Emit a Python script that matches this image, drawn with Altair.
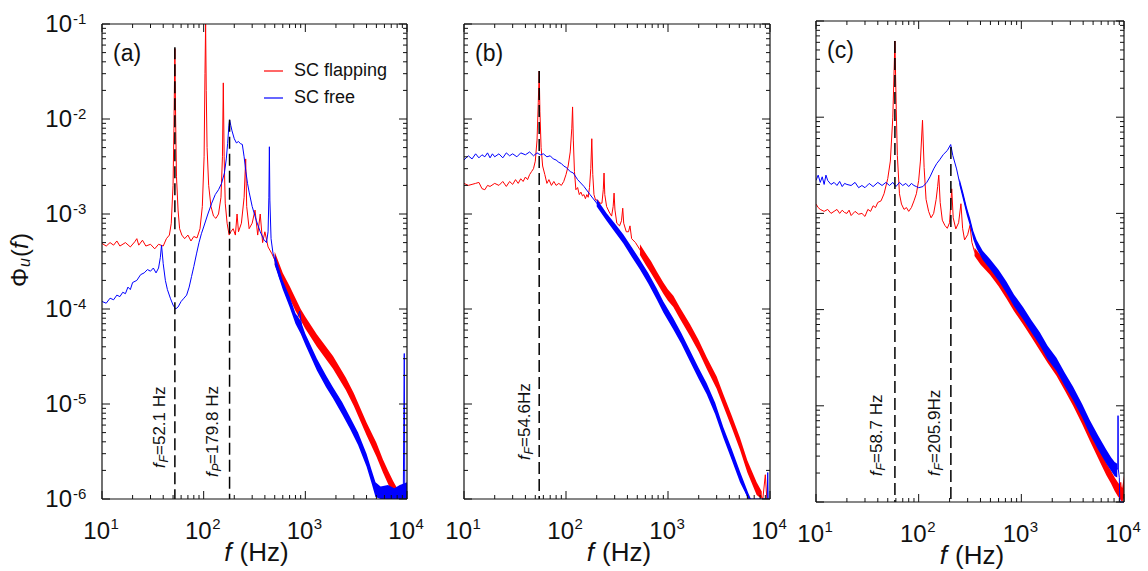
import altair as alt
import pandas as pd

RED = "#ff0000"
BLUE = "#0000ff"
INK = "#111111"
FONT = "Liberation Sans"

SERIES = ["SC flapping", "SC free"]
PANEL_TAGS = ["(a)", "(b)", "(c)"]

# ---------------- panel (a) ----------------
A_RED = [(10, 4.9e-4), (11, 4.6e-4), (12, 5.0e-4), (13, 4.7e-4), (14, 5.2e-4), (15, 4.6e-4), (17, 5.0e-4),
         (19, 4.5e-4), (21, 5.1e-4), (22, 5.5e-4), (23, 4.7e-4), (25, 5.3e-4), (27, 4.6e-4), (30, 4.8e-4),
         (33, 4.3e-4), (36, 4.8e-4), (40, 4.6e-4), (43, 5.5e-4), (46, 6.0e-4), (48, 8e-4), (50, 2e-3),
         (51, 8e-3), (52.1, 5.5e-2), (53, 1e-2), (54, 2.5e-3), (56, 1.1e-3), (58, 7e-4), (61, 6e-4),
         (65, 5.5e-4), (70, 6.0e-4), (75, 5.2e-4), (80, 5.8e-4), (86, 5.6e-4), (92, 7e-4), (97, 1.2e-3),
         (101, 4e-3), (103, 3e-2), (104.5, 1e-1), (106, 2e-2), (108, 5e-3), (112, 2e-3), (118, 1.2e-3),
         (125, 9.5e-4), (132, 9e-4), (140, 1.0e-3), (148, 1.5e-3), (153, 4e-3), (156, 2.4e-2), (159, 4e-3),
         (163, 1.3e-3), (170, 8e-4), (178, 6e-4), (185, 6.5e-4), (195, 7e-4), (205, 6e-4), (213, 1.0e-3),
         (220, 6.5e-4), (235, 8e-4), (250, 1.5e-3), (259, 3.8e-3), (265, 1.2e-3), (280, 7e-4), (300, 8e-4),
         (320, 1.1e-3), (340, 6e-4), (360, 1.0e-3), (380, 5e-4), (400, 6.5e-4), (430, 4.5e-4), (470, 3.8e-4),
         (520, 3.0e-4), (600, 2.0e-4), (700, 1.45e-4), (800, 1.1e-4), (900, 8.5e-5), (1000, 7e-5),
         (1300, 4.6e-5), (1870, 2.7e-5), (2500, 1.6e-5), (3000, 1.1e-5), (4000, 5.4e-6), (5000, 3.3e-6),
         (5800, 2.2e-6), (6500, 1.7e-6), (7300, 1.3e-6), (8000, 1.1e-6)]
A_RED_BAND = [(500, 2.9e-4, 4.0e-4), (600, 1.8e-4, 2.4e-4), (700, 1.3e-4, 1.75e-4), (800, 9.5e-5, 1.3e-4),
              (900, 7.6e-5, 1.0e-4), (1000, 6.2e-5, 8.3e-5), (1300, 4.0e-5, 5.4e-5), (1870, 2.35e-5, 3.2e-5),
              (2500, 1.4e-5, 1.9e-5), (3000, 9.5e-6, 1.3e-5), (4000, 4.7e-6, 6.4e-6), (5000, 2.8e-6, 3.9e-6),
              (5800, 1.9e-6, 2.6e-6), (6500, 1.45e-6, 2.0e-6), (7300, 1.1e-6, 1.55e-6), (8000, 1.0e-6, 1.3e-6)]
A_BLUE = [(10, 1.2e-4), (11, 1.15e-4), (12, 1.3e-4), (13, 1.25e-4), (14, 1.4e-4), (15, 1.35e-4), (16, 1.5e-4),
          (17, 1.45e-4), (18, 1.7e-4), (19, 1.6e-4), (20, 1.9e-4), (22, 2.0e-4), (24, 2.3e-4), (26, 2.4e-4),
          (28, 2.6e-4), (30, 2.5e-4), (32, 2.7e-4), (34, 2.4e-4), (36, 2.7e-4), (37.5, 3.5e-4), (38.5, 4.7e-4),
          (40, 3.0e-4), (42, 2.0e-4), (44, 1.6e-4), (47, 1.3e-4), (50, 1.1e-4), (53, 1.0e-4), (56, 1.05e-4),
          (60, 1.2e-4), (64, 1.3e-4), (68, 1.4e-4), (72, 1.7e-4), (76, 2.2e-4), (80, 2.8e-4), (85, 3.8e-4),
          (90, 5.0e-4), (95, 6.2e-4), (100, 7.3e-4), (110, 1.0e-3), (120, 1.3e-3), (130, 1.6e-3),
          (140, 1.8e-3), (150, 2.1e-3), (160, 2.7e-3), (167, 3.8e-3), (172, 5.5e-3), (177, 8.5e-3),
          (180, 9.8e-3), (185, 8.5e-3), (190, 7.5e-3), (200, 6.2e-3), (210, 5.6e-3), (220, 5.8e-3),
          (230, 5.5e-3), (240, 5.4e-3), (250, 4.0e-3), (260, 2.8e-3), (270, 2.1e-3), (280, 1.7e-3),
          (300, 1.2e-3), (330, 8.5e-4), (360, 6.5e-4), (390, 5.4e-4), (415, 5.0e-4), (430, 6.5e-4),
          (438, 1.5e-3), (443, 5.1e-3), (448, 1.4e-3), (460, 5.5e-4), (480, 3.9e-4), (500, 3.3e-4),
          (560, 2.1e-4), (610, 1.75e-4), (650, 1.45e-4), (700, 1.2e-4), (760, 9e-5), (820, 7.5e-5),
          (880, 9.5e-5), (920, 6.5e-5), (1000, 4.8e-5), (1300, 2.6e-5), (1600, 1.7e-5), (1870, 1.3e-5),
          (2300, 9.0e-6), (2750, 6.3e-6), (3300, 4.3e-6), (4000, 2.6e-6), (4500, 1.7e-6), (4900, 1.25e-6),
          (5500, 1.1e-6), (6500, 1.15e-6), (7500, 1.05e-6), (8500, 1.15e-6), (9200, 1.2e-6), (9400, 3.4e-5),
          (9500, 1.3e-6), (10000, 1.2e-6)]
A_BLUE_BAND = [(500, 2.9e-4, 3.8e-4), (600, 1.6e-4, 2.0e-4), (700, 1.05e-4, 1.35e-4), (800, 7.0e-5, 9.0e-5),
               (900, 5.5e-5, 7.5e-5), (1000, 4.2e-5, 5.5e-5), (1300, 2.25e-5, 3.0e-5), (1600, 1.5e-5, 2.0e-5),
               (1870, 1.15e-5, 1.5e-5), (2300, 7.8e-6, 1.05e-5), (2750, 5.5e-6, 7.3e-6), (3300, 3.7e-6, 5.0e-6),
               (4000, 2.2e-6, 3.0e-6), (4500, 1.45e-6, 2.0e-6), (4900, 1.05e-6, 1.5e-6), (5500, 0.95e-6, 1.35e-6),
               (6500, 0.95e-6, 1.4e-6), (7500, 0.9e-6, 1.3e-6), (8500, 0.95e-6, 1.4e-6), (10000, 0.95e-6, 1.5e-6)]
A_MARKERS = [(52.1, 5.7e-2, "F", "=52.1 Hz"), (179.8, 9.8e-3, "P", "=179.8 Hz")]

# ---------------- panel (b) ----------------
B_RED = [(10, 2.1e-3), (11, 2.0e-3), (12, 2.05e-3), (13, 2.1e-3), (14, 2.15e-3), (15, 1.85e-3), (16, 1.8e-3),
         (17, 2.0e-3), (18, 1.95e-3), (20, 2.1e-3), (22, 2.0e-3), (24, 2.2e-3), (26, 1.95e-3), (28, 2.2e-3),
         (30, 2.05e-3), (32, 2.3e-3), (34, 2.1e-3), (36, 2.35e-3), (38, 2.2e-3), (40, 2.45e-3), (42, 2.3e-3),
         (44, 2.6e-3), (46, 2.8e-3), (48, 3.0e-3), (50, 3.6e-3), (52, 6e-3), (53.5, 1.5e-2), (54.6, 3.2e-2),
         (55.5, 1.2e-2), (57, 5e-3), (59, 3.2e-3), (62, 2.6e-3), (65, 2.1e-3), (68, 2.3e-3), (72, 2.0e-3),
         (76, 2.2e-3), (80, 2.0e-3), (85, 2.1e-3), (90, 2.0e-3), (95, 2.2e-3), (100, 2.6e-3), (105, 3.2e-3),
         (110, 4.5e-3), (114, 8e-3), (116, 1.34e-2), (118, 6e-3), (121, 2.8e-3), (125, 1.8e-3), (130, 1.9e-3),
         (135, 1.6e-3), (140, 1.7e-3), (145, 1.55e-3), (150, 1.6e-3), (155, 1.45e-3), (160, 1.6e-3),
         (165, 1.5e-3), (170, 1.9e-3), (175, 3e-3), (179, 6.2e-3), (183, 2.6e-3), (188, 1.6e-3), (195, 1.4e-3),
         (205, 1.4e-3), (215, 1.3e-3), (225, 1.3e-3), (232, 1.8e-3), (236, 2.7e-3), (240, 1.6e-3),
         (250, 1.2e-3), (265, 1.05e-3), (280, 9.5e-4), (290, 1.2e-3), (296, 1.66e-3), (302, 1.1e-3),
         (315, 8e-4), (335, 7.5e-4), (350, 8.5e-4), (360, 1.15e-3), (368, 8e-4), (390, 6.5e-4), (410, 6.5e-4),
         (424, 7.5e-4), (440, 5.5e-4), (480, 5e-4), (531, 4.2e-4), (600, 3.4e-4), (680, 2.8e-4), (774, 2.2e-4),
         (900, 1.65e-4), (1000, 1.4e-4), (1128, 1.2e-4), (1300, 9.2e-5), (1644, 6e-5), (2000, 4.1e-5),
         (2395, 2.7e-5), (3000, 1.7e-5), (3487, 1.1e-5), (4200, 6.6e-6), (5078, 3.8e-6), (6000, 2.2e-6),
         (7400, 1.3e-6), (8500, 1.0e-6), (9000, 1.8e-6), (9300, 9e-7), (10000, 9e-7)]
B_RED_BAND = [(531, 3.7e-4, 4.8e-4), (600, 2.95e-4, 3.9e-4), (680, 2.4e-4, 3.2e-4), (774, 1.9e-4, 2.5e-4),
              (900, 1.45e-4, 1.9e-4), (1000, 1.22e-4, 1.6e-4), (1128, 1.05e-4, 1.38e-4), (1300, 8e-5, 1.05e-4),
              (1644, 5.2e-5, 6.9e-5), (2000, 3.55e-5, 4.7e-5), (2395, 2.35e-5, 3.1e-5), (3000, 1.45e-5, 1.95e-5),
              (3487, 9.5e-6, 1.27e-5), (4200, 5.7e-6, 7.6e-6), (5078, 3.3e-6, 4.4e-6), (6000, 1.9e-6, 2.55e-6),
              (7400, 1.1e-6, 1.5e-6), (8300, 0.9e-6, 1.2e-6)]
B_BLUE = [(10, 3.7e-3), (11, 4.1e-3), (12, 3.8e-3), (13, 4.3e-3), (14, 3.9e-3), (15, 4.2e-3), (16, 4.0e-3),
          (17, 4.4e-3), (18, 3.9e-3), (19, 4.3e-3), (20, 4.0e-3), (22, 4.3e-3), (24, 3.9e-3), (26, 4.4e-3),
          (28, 4.1e-3), (30, 4.3e-3), (33, 4.0e-3), (36, 4.4e-3), (40, 4.2e-3), (44, 4.5e-3), (48, 4.1e-3),
          (52, 4.4e-3), (56, 4.2e-3), (60, 4.3e-3), (65, 4.0e-3), (70, 4.1e-3), (75, 3.8e-3), (80, 3.7e-3),
          (85, 3.5e-3), (90, 3.4e-3), (95, 3.2e-3), (100, 3.1e-3), (110, 2.8e-3), (118, 2.7e-3), (130, 2.3e-3),
          (150, 1.95e-3), (172, 1.6e-3), (200, 1.3e-3), (250, 9.3e-4), (300, 7.2e-4), (365, 5.5e-4),
          (440, 4.0e-4), (531, 2.95e-4), (640, 2.1e-4), (774, 1.45e-4), (900, 1.05e-4), (1128, 7e-5),
          (1350, 4.9e-5), (1644, 3.2e-5), (2000, 2.1e-5), (2395, 1.45e-5), (2900, 9e-6), (3487, 5e-6),
          (4200, 3e-6), (5078, 1.7e-6), (6136, 1e-6), (6500, 8e-7), (9400, 8e-7), (9500, 1.9e-6), (9600, 8e-7)]
B_BLUE_BAND = [(200, 1.2e-3, 1.45e-3), (250, 8.5e-4, 1.02e-3), (300, 6.5e-4, 8e-4), (365, 4.9e-4, 6.1e-4),
               (440, 3.55e-4, 4.5e-4), (531, 2.6e-4, 3.3e-4), (640, 1.85e-4, 2.4e-4), (774, 1.27e-4, 1.65e-4),
               (900, 9.2e-5, 1.2e-4), (1128, 6.1e-5, 8e-5), (1350, 4.3e-5, 5.6e-5), (1644, 2.8e-5, 3.65e-5),
               (2000, 1.83e-5, 2.4e-5), (2395, 1.27e-5, 1.65e-5), (2900, 7.8e-6, 1.03e-5), (3487, 4.4e-6, 5.7e-6),
               (4200, 2.6e-6, 3.4e-6), (5078, 1.5e-6, 1.95e-6), (6136, 0.85e-6, 1.15e-6), (6500, 0.7e-6, 0.95e-6)]
B_MARKERS = [(54.6, 3.2e-2, "F", "=54.6Hz")]

# ---------------- panel (c) ----------------
C_RED = [(10, 1.25e-3), (10.5, 1.15e-3), (11, 1.1e-3), (12, 1.05e-3), (13, 1.1e-3), (14, 1.0e-3), (15, 1.05e-3),
         (16, 1.1e-3), (17, 1.0e-3), (18, 1.08e-3), (19, 1.02e-3), (20, 1.0e-3), (21, 1.08e-3), (22, 0.95e-3),
         (24, 1.05e-3), (26, 0.98e-3), (28, 1.0e-3), (30, 0.93e-3), (32, 1.1e-3), (34, 1.05e-3), (36, 1.2e-3),
         (38, 1.15e-3), (40, 1.3e-3), (43, 1.35e-3), (46, 1.6e-3), (50, 2.3e-3), (53, 3.5e-3), (56, 1e-2),
         (58.7, 6.2e-2), (60.5, 1.2e-2), (62, 4e-3), (65, 1.6e-3), (68, 1.25e-3), (72, 1.1e-3), (76, 1.15e-3),
         (80, 1.05e-3), (85, 1.15e-3), (90, 1.35e-3), (95, 1.6e-3), (100, 2.2e-3), (104, 3.5e-3), (109, 9.3e-3),
         (113, 3e-3), (118, 1.4e-3), (125, 1.05e-3), (132, 9e-4), (140, 1.0e-3), (148, 1.4e-3), (153, 1.9e-3),
         (157, 2.5e-3), (162, 1.3e-3), (170, 8.5e-4), (180, 7.5e-4), (190, 7.0e-4), (200, 8e-4), (210, 1.8e-3),
         (217, 9e-4), (230, 6.9e-4), (245, 8e-4), (258, 1.26e-3), (268, 7e-4), (280, 5.3e-4), (300, 6e-4),
         (316, 7.5e-4), (330, 5e-4), (350, 4.0e-4), (400, 3.3e-4), (495, 2.6e-4), (600, 2.0e-4), (718, 1.5e-4),
         (850, 1.1e-4), (1042, 8.0e-5), (1250, 6.0e-5), (1513, 4.3e-5), (1800, 3.2e-5), (2199, 2.35e-5),
         (2650, 1.65e-5), (3193, 1.15e-5), (3900, 7.5e-6), (4637, 5.0e-6), (5600, 3.3e-6), (6733, 2.2e-6),
         (7500, 1.8e-6), (8110, 1.55e-6), (8700, 1.4e-6), (9000, 1.25e-6), (9300, 1.6e-6), (9600, 1.1e-6),
         (10000, 1.6e-6)]
C_RED_BAND = [(350, 3.6e-4, 4.4e-4), (400, 2.95e-4, 3.7e-4), (495, 2.3e-4, 2.9e-4), (600, 1.75e-4, 2.25e-4),
              (718, 1.3e-4, 1.7e-4), (850, 9.6e-5, 1.25e-4), (1042, 7e-5, 9.1e-5), (1250, 5.2e-5, 6.8e-5),
              (1513, 3.75e-5, 4.9e-5), (1800, 2.8e-5, 3.65e-5), (2199, 2.05e-5, 2.7e-5), (2650, 1.44e-5, 1.9e-5),
              (3193, 1.0e-5, 1.32e-5), (3900, 6.5e-6, 8.6e-6), (4637, 4.35e-6, 5.75e-6), (5600, 2.85e-6, 3.8e-6),
              (6733, 1.9e-6, 2.55e-6), (7500, 1.55e-6, 2.1e-6), (8110, 1.3e-6, 1.8e-6), (8700, 1.15e-6, 1.6e-6),
              (9600, 0.95e-6, 1.4e-6), (10000, 1.1e-6, 1.9e-6)]
C_BLUE = [(10, 2.2e-3), (10.5, 2.5e-3), (11, 2.1e-3), (11.5, 2.4e-3), (12, 2.0e-3), (12.5, 2.5e-3), (13, 2.2e-3),
          (14, 2.0e-3), (15, 2.1e-3), (16, 1.95e-3), (17, 2.15e-3), (18, 1.9e-3), (19, 2.05e-3), (20, 2.0e-3),
          (22, 1.95e-3), (24, 2.1e-3), (26, 1.85e-3), (28, 1.95e-3), (30, 1.85e-3), (33, 2.05e-3), (36, 1.9e-3),
          (40, 2.1e-3), (44, 1.95e-3), (48, 2.1e-3), (52, 1.95e-3), (56, 2.1e-3), (60, 1.9e-3), (65, 2.1e-3),
          (70, 1.95e-3), (75, 2.05e-3), (80, 1.9e-3), (85, 2.05e-3), (90, 1.95e-3), (95, 1.9e-3), (100, 1.85e-3),
          (110, 1.9e-3), (120, 2.1e-3), (129, 2.4e-3), (140, 2.9e-3), (150, 3.3e-3), (160, 3.6e-3),
          (174, 4.1e-3), (190, 4.5e-3), (205, 5.2e-3), (215, 4.0e-3), (234, 2.9e-3), (250, 2.1e-3),
          (272, 1.5e-3), (295, 1.05e-3), (316, 8.2e-4), (340, 6.0e-4), (367, 4.8e-4), (420, 3.7e-4),
          (495, 3.0e-4), (600, 2.3e-4), (718, 1.7e-4), (850, 1.25e-4), (1042, 9.2e-5), (1250, 6.8e-5),
          (1513, 5.0e-5), (1800, 3.6e-5), (2199, 2.7e-5), (2650, 1.9e-5), (3193, 1.35e-5), (3900, 9e-6),
          (4637, 6.1e-6), (5600, 4.2e-6), (6733, 3.0e-6), (7500, 2.5e-6), (8110, 2.2e-6), (8700, 2.2e-6),
          (8750, 7.9e-6), (8800, 2.2e-6), (9000, 1.8e-6), (9100, 5e-7), (10000, 5e-7)]
C_BLUE_BAND = [(250, 1.95e-3, 2.3e-3), (272, 1.35e-3, 1.65e-3), (295, 9.5e-4, 1.15e-3), (316, 7.4e-4, 9.0e-4),
               (340, 5.4e-4, 6.6e-4), (367, 4.3e-4, 5.3e-4), (420, 3.3e-4, 4.1e-4), (495, 2.65e-4, 3.35e-4),
               (600, 2.0e-4, 2.6e-4), (718, 1.48e-4, 1.95e-4), (850, 1.08e-4, 1.43e-4), (1042, 7.9e-5, 1.06e-4),
               (1250, 5.8e-5, 7.8e-5), (1513, 4.25e-5, 5.8e-5), (1800, 3.05e-5, 4.2e-5), (2199, 2.3e-5, 3.15e-5),
               (2650, 1.6e-5, 2.2e-5), (3193, 1.14e-5, 1.58e-5), (3900, 7.6e-6, 1.05e-5), (4637, 5.1e-6, 7.1e-6),
               (5600, 3.5e-6, 4.9e-6), (6733, 2.5e-6, 3.5e-6), (7500, 2.1e-6, 2.9e-6), (8110, 1.85e-6, 2.6e-6),
               (8600, 1.8e-6, 2.5e-6)]
C_MARKERS = [(58.7, 6.2e-2, "F", "=58.7 Hz"), (205.9, 4.9e-3, "F", "=205.9Hz")]

# ---------------- axes ----------------
X_MAJOR = [10, 100, 1000, 10000]
X_EXP = ["1", "2", "3", "4"]
X_MINOR = [m * 10 ** k for k in (1, 2, 3) for m in range(2, 10)]
Y_MAJOR = [1e-1, 1e-2, 1e-3, 1e-4, 1e-5, 1e-6]
Y_EXP = ["-1", "-2", "-3", "-4", "-5", "-6"]
Y_MINOR = [m * 10.0 ** (-k) for k in (2, 3, 4, 5, 6) for m in range(2, 10)]

# layout (pixels): plot size, view height, extents used for placement, marker-label offsets
LAYOUT = {
    "a": dict(W=305, H=475, VH=475, L=102, T=24, R=35, labels=[(31, 10), (22, 11.5)]),
    "b": dict(W=306, H=475, VH=475, L=22, T=23, R=24, labels=[(39, 9)]),
    "c": dict(W=308, H=481, VH=489, L=22, T=17, R=24, labels=[(26, 12.5), (26, 11)]),
}

ONE = pd.DataFrame({"k": [0]})


def panel(key, tag, red, red_band, blue, blue_band, markers, first):
    lay = LAYOUT[key]
    W, H = lay["W"], lay["H"]
    xs = alt.Scale(type="log", domain=[10, 10000], nice=False)
    ys = alt.Scale(type="log", domain=[1e-6, 1e-1], nice=False, clamp=True, range=[H, 0])

    def X(fld):
        return alt.X(fld, type="quantitative", scale=xs, axis=None)

    def Y(fld):
        return alt.Y(fld, type="quantitative", scale=ys, axis=None)

    layers = []
    # invisible extent marker controlling panel placement
    layers.append(alt.Chart(ONE).mark_rule(color="white", strokeOpacity=0, strokeWidth=0.1).encode(
        x=alt.value(-lay["L"]), x2=alt.value(W + lay["R"]), y=alt.value(-lay["T"])))

    for pts, band, col in ((red, red_band, RED), (blue, blue_band, BLUE)):
        bdf = pd.DataFrame(band, columns=["f", "lo", "hi"])
        ldf = pd.DataFrame(pts, columns=["f", "v"])
        layers.append(alt.Chart(bdf).mark_area(color=col, clip=True, opacity=1).encode(
            x=X("f"), y=Y("lo"), y2=alt.Y2("hi")))
        layers.append(alt.Chart(ldf).mark_line(color=col, strokeWidth=1, clip=True).encode(
            x=X("f"), y=Y("v")))

    mdf = pd.DataFrame([(m[0], m[1]) for m in markers], columns=["f", "top"])
    layers.append(alt.Chart(mdf).mark_rule(color="black", strokeWidth=1.5, strokeDash=[12, 5]).encode(
        x=X("f"), y=Y("top"), y2=alt.value(H)))

    # frame
    for x1, y1, x2, y2 in ((0, 0, W, 0), (0, H, W, H), (0, 0, 0, H), (W, 0, W, H)):
        layers.append(alt.Chart(ONE).mark_rule(color=INK, strokeWidth=1.2).encode(
            x=alt.value(x1), y=alt.value(y1), x2=alt.value(x2), y2=alt.value(y2)))

    # inward ticks on all four sides
    for vals, ln in ((X_MAJOR, 8), (X_MINOR, 4)):
        d = pd.DataFrame({"t": vals})
        layers.append(alt.Chart(d).mark_rule(color=INK, strokeWidth=1).encode(
            x=X("t"), y=alt.value(H), y2=alt.value(H - ln)))
        layers.append(alt.Chart(d).mark_rule(color=INK, strokeWidth=1).encode(
            x=X("t"), y=alt.value(0), y2=alt.value(ln)))
    for vals, ln in ((Y_MAJOR, 8), (Y_MINOR, 4)):
        d = pd.DataFrame({"t": vals})
        layers.append(alt.Chart(d).mark_rule(color=INK, strokeWidth=1).encode(
            y=Y("t"), x=alt.value(0), x2=alt.value(ln)))
        layers.append(alt.Chart(d).mark_rule(color=INK, strokeWidth=1).encode(
            y=Y("t"), x=alt.value(W), x2=alt.value(W - ln)))

    # x tick labels 10^n
    xl = pd.DataFrame({"t": X_MAJOR, "e": X_EXP})
    layers.append(alt.Chart(xl).mark_text(text="10", font=FONT, fontSize=24, align="right",
                                          baseline="alphabetic", dx=8, color=INK).encode(
        x=X("t"), y=alt.value(H + 40)))
    layers.append(alt.Chart(xl).mark_text(font=FONT, fontSize=15, align="left",
                                          baseline="alphabetic", dx=8.5, color=INK).encode(
        x=X("t"), y=alt.value(H + 30), text="e:N"))

    if first:
        yl = pd.DataFrame({"t": Y_MAJOR, "e": Y_EXP})
        layers.append(alt.Chart(yl).mark_text(text="10", font=FONT, fontSize=24, align="right",
                                              baseline="alphabetic", dy=8, color=INK).encode(
            y=Y("t"), x=alt.value(-30)))
        layers.append(alt.Chart(yl).mark_text(font=FONT, fontSize=15, align="left",
                                              baseline="alphabetic", dy=0, color=INK).encode(
            y=Y("t"), x=alt.value(-29), text="e:N"))
        # y title  Φ_u(f)
        yt = dict(angle=270, align="left", baseline="alphabetic", font=FONT, color=INK)
        for txt, size, style, dx, dy in (("Φ", 24, "normal", 0, 0), ("u", 16, "italic", 20, 2),
                                         ("(", 24, "normal", 30, 0), ("f", 24, "italic", 38, 0),
                                         (")", 24, "normal", 46, 0)):
            layers.append(alt.Chart(ONE).mark_text(text=txt, fontSize=size, fontStyle=style,
                                                   dx=dx, dy=dy, **yt).encode(
                x=alt.value(-74), y=alt.value(263)))
        # legend
        for i, (name, col) in enumerate(zip(SERIES, (RED, BLUE))):
            yy = 47 + 27 * i
            layers.append(alt.Chart(ONE).mark_rule(color=col, strokeWidth=1.2).encode(
                x=alt.value(162), x2=alt.value(181), y=alt.value(yy)))
            layers.append(alt.Chart(ONE).mark_text(text=name, font=FONT, fontSize=18, align="left",
                                                   baseline="middle", color=INK).encode(
                x=alt.value(192), y=alt.value(yy)))

    # x title  f (Hz)
    layers.append(alt.Chart(ONE).mark_text(text="f", font=FONT, fontSize=26, fontStyle="italic",
                                           align="right", baseline="alphabetic", color=INK).encode(
        x=alt.value(W / 2 - 23), y=alt.value(H + 62)))
    layers.append(alt.Chart(ONE).mark_text(text="(Hz)", font=FONT, fontSize=26, align="left",
                                           baseline="alphabetic", color=INK).encode(
        x=alt.value(W / 2 - 15), y=alt.value(H + 62)))

    # panel tag
    layers.append(alt.Chart(ONE).mark_text(text=tag, font=FONT, fontSize=23, align="left",
                                           baseline="alphabetic", color=INK).encode(
        x=alt.value(11), y=alt.value(37)))

    # marker labels  f_X=...
    for (fv, top, sub, rest), (start, gap) in zip(markers, lay["labels"]):
        d = pd.DataFrame({"f": [fv]})
        base = dict(angle=270, align="left", baseline="alphabetic", font=FONT, color=INK)
        enc = dict(x=X("f"), y=alt.value(H - start))
        layers.append(alt.Chart(d).mark_text(text="f", fontSize=17, fontStyle="italic",
                                             dy=-gap, **base).encode(**enc))
        layers.append(alt.Chart(d).mark_text(text=sub, fontSize=12, fontStyle="italic",
                                             dx=5.5, dy=-gap + 3, **base).encode(**enc))
        layers.append(alt.Chart(d).mark_text(text=rest, fontSize=17, dx=13,
                                             dy=-gap, **base).encode(**enc))

    return alt.layer(*layers).properties(width=W, height=lay["VH"])


pa = panel("a", PANEL_TAGS[0], A_RED, A_RED_BAND, A_BLUE, A_BLUE_BAND, A_MARKERS, True)
pb = panel("b", PANEL_TAGS[1], B_RED, B_RED_BAND, B_BLUE, B_BLUE_BAND, B_MARKERS, False)
pc = panel("c", PANEL_TAGS[2], C_RED, C_RED_BAND, C_BLUE, C_BLUE_BAND, C_MARKERS, False)

chart = alt.hconcat(pa, pb, pc, spacing=0, center=True).properties(
    padding=0, background="white").configure_view(stroke=None)

chart.save("out.html", embed_options={"renderer": "svg", "actions": False})
